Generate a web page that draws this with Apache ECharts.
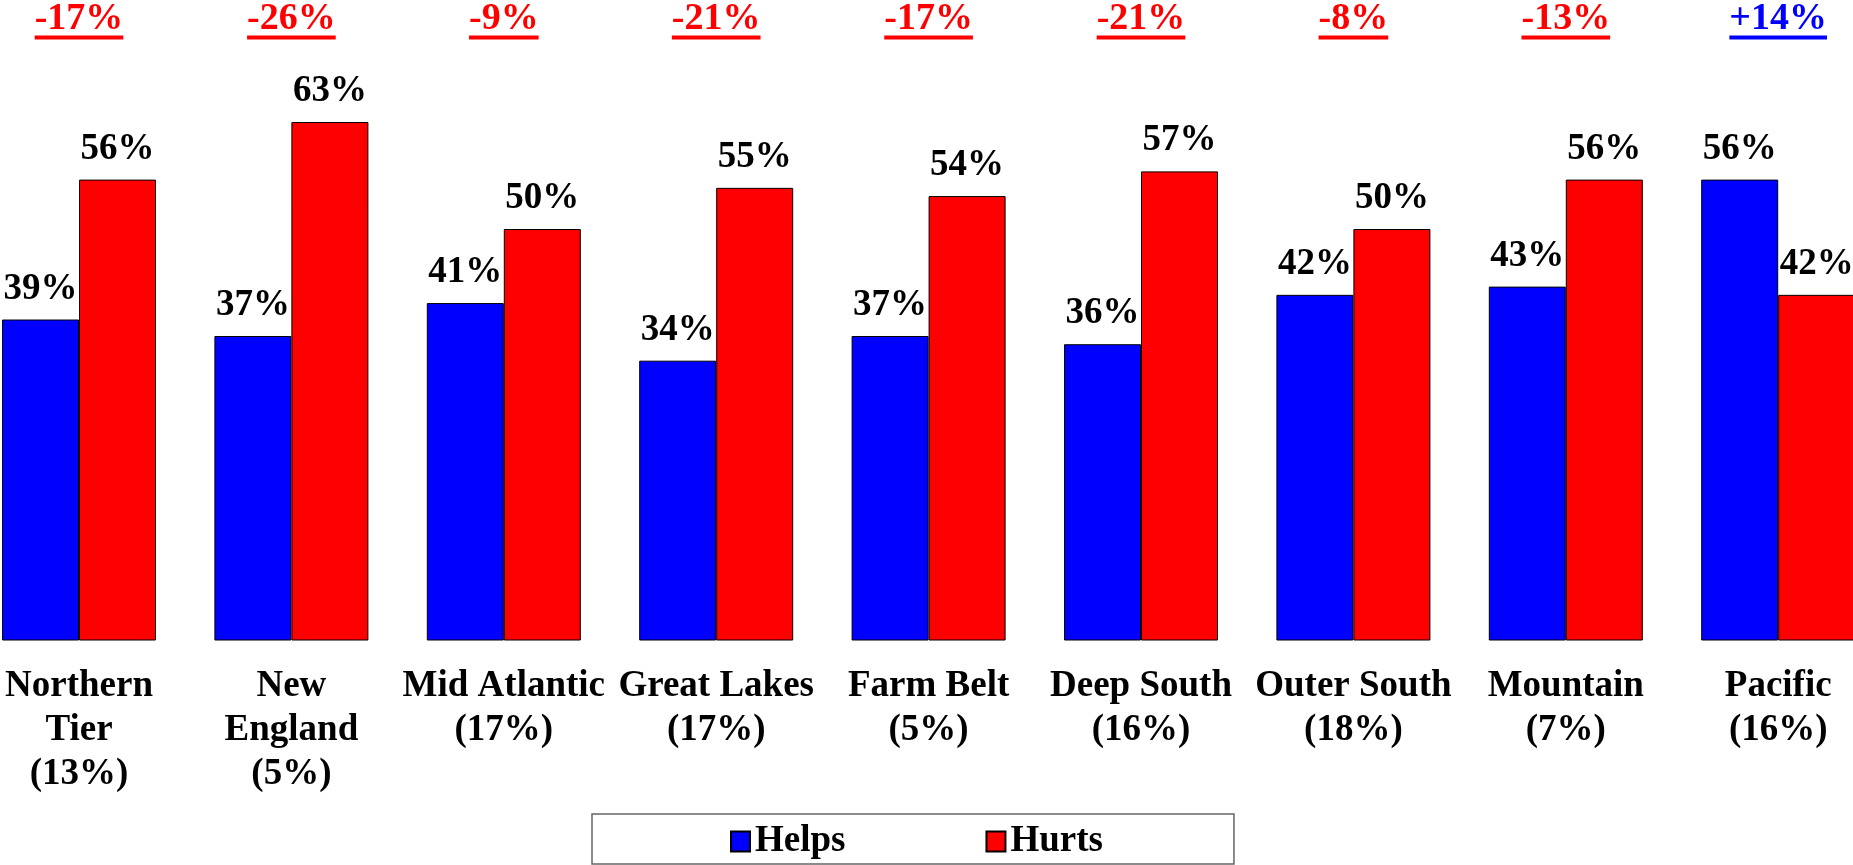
<!DOCTYPE html>
<html>
<head>
<meta charset="utf-8">
<title>Helps / Hurts by region</title>
<script src="https://cdn.jsdelivr.net/npm/echarts@6/dist/echarts.min.js"></script>
<style>
  html, body { margin: 0; padding: 0; background: #fff; }
  #chart { width: 1853px; height: 865px; }
</style>
</head>
<body>
<div id="chart"></div>
<script>
// data
var categories = [
  'Northern\nTier\n(13%)', 'New\nEngland\n(5%)', 'Mid Atlantic\n(17%)',
  'Great Lakes\n(17%)', 'Farm Belt\n(5%)', 'Deep South\n(16%)',
  'Outer South\n(18%)', 'Mountain\n(7%)', 'Pacific\n(16%)'
]
var helps = [39, 37, 41, 34, 37, 36, 42, 43, 56]
var hurts = [56, 63, 50, 55, 54, 57, 50, 56, 42]
var netDiff = [-17, -26, -9, -21, -17, -21, -8, -13, 14]

var Y_MAX = 70
var FONT_FAMILY = '"Liberation Serif", "Times New Roman", serif'
var NET_FONT = 'bold 38px ' + FONT_FAMILY
var BLUE = '#0000FF'
var RED = '#FF0000'

// width of a string in the net label font, for the underline
var measureCtx = document.createElement('canvas').getContext('2d')
function textWidth(str) {
  measureCtx.font = NET_FONT
  return measureCtx.measureText(str).width
}

var chart = echarts.init(document.getElementById('chart'))

var barLabel = {
  show: true,
  position: 'top',
  distance: 12,
  formatter: '{c}%',
  color: '#000',
  fontFamily: FONT_FAMILY,
  fontWeight: 'bold',
  fontSize: 37
}

var option = {
  animation: false,
  backgroundColor: '#fff',
  grid: {
    left: -27.2,
    right: -31.4,
    top: 64.4,
    bottom: 224.5,
    outerBoundsMode: 'none',
    containLabel: false
  },
  legend: {
    data: ['Helps', 'Hurts'],
    left: 592,
    top: 814,
    padding: [9, 131, 4, 138],
    itemWidth: 19,
    itemHeight: 20,
    itemGap: 140,
    icon: 'rect',
    selectedMode: false,
    borderColor: '#666',
    borderWidth: 1.5,
    textStyle: {
      color: '#000',
      fontFamily: FONT_FAMILY,
      fontWeight: 'bold',
      fontSize: 37
    }
  },
  xAxis: {
    type: 'category',
    data: categories,
    axisLine: {show: false},
    axisTick: {show: false},
    axisLabel: {
      interval: 0,
      margin: 24,
      color: '#000',
      fontFamily: FONT_FAMILY,
      fontWeight: 'bold',
      fontSize: 37,
      lineHeight: 44
    }
  },
  yAxis: {
    type: 'value',
    min: 0,
    max: Y_MAX,
    show: false,
    splitLine: {show: false}
  },
  series: [
    {
      name: 'Helps',
      type: 'bar',
      data: helps,
      barWidth: 77,
      barGap: '0%',
      itemStyle: {color: BLUE, borderColor: '#000', borderWidth: 1},
      label: barLabel
    },
    {
      name: 'Hurts',
      type: 'bar',
      data: hurts,
      barWidth: 77,
      barGap: '0%',
      itemStyle: {color: RED, borderColor: '#000', borderWidth: 1},
      label: barLabel
    },
    {
      // net difference printed above each group, underlined
      name: 'Net',
      type: 'custom',
      silent: true,
      data: netDiff.map(function (d, i) { return [i, d] }),
      encode: {x: 0, y: 1},
      renderItem: function (params, api) {
        var i = api.value(0)
        var d = api.value(1)
        var p = api.coord([i, Y_MAX])
        var txt = (d > 0 ? '+' : '') + d + '%'
        var color = d > 0 ? BLUE : RED
        var w = textWidth(txt)
        return {
          type: 'group',
          children: [
            {
              type: 'text',
              x: p[0],
              y: p[1] - 45,
              style: {
                text: txt,
                align: 'center',
                verticalAlign: 'middle',
                font: NET_FONT,
                fill: color
              }
            },
            {
              type: 'rect',
              shape: {x: p[0] - w / 2, y: p[1] - 29, width: w, height: 4},
              style: {fill: color}
            }
          ]
        }
      }
    }
  ]
}

chart.setOption(option)
</script>
</body>
</html>
